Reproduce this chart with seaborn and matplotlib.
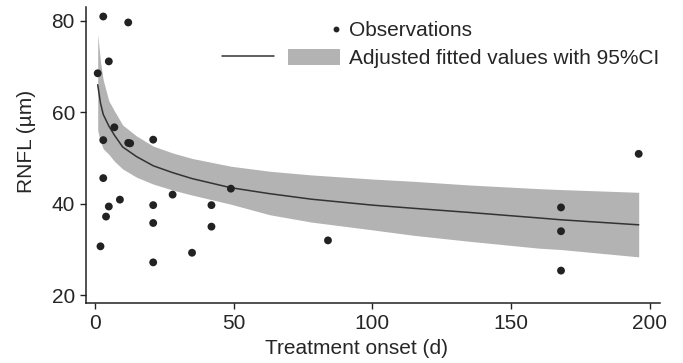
import numpy as np
import pandas as pd
import matplotlib
matplotlib.use("Agg")
import matplotlib.pyplot as plt
import seaborn as sns
from matplotlib.lines import Line2D
from matplotlib.patches import Patch
from matplotlib.legend_handler import HandlerTuple

# ---------------- data ----------------
obs_days = [1, 3, 12, 5, 7, 3, 12, 12.7, 21, 3, 2, 4, 5, 9, 21, 21, 21,
            28, 35, 42, 42, 49, 84, 196, 168, 168, 168]
obs_rnfl = [68.5, 80.9, 79.6, 71.1, 56.7, 53.9, 53.3, 53.2, 54.0, 45.6, 30.7,
            37.2, 39.4, 40.9, 39.7, 35.8, 27.2, 42.0, 29.3, 39.7, 35.0, 43.3,
            32.0, 50.9, 39.2, 34.0, 25.4]

fit_days = [1, 2, 3, 5, 7, 10, 15, 21, 28, 35, 49, 63, 78, 100, 115, 135,
            160, 168, 196]
fit_rnfl = [66.0, 62.0, 59.5, 57.0, 55.0, 52.4, 50.3, 48.3, 46.8, 45.5, 43.5,
            42.2, 41.0, 39.7, 39.0, 38.1, 36.9, 36.5, 35.4]
ci_upper = [77.0, 71.0, 67.0, 62.5, 60.3, 57.2, 54.8, 52.6, 51.1, 49.9, 48.2,
            47.1, 46.3, 45.4, 44.9, 44.1, 43.3, 43.1, 42.5]
ci_lower = [56.0, 53.5, 52.0, 50.8, 49.3, 47.6, 45.8, 44.3, 43.0, 41.9, 39.9,
            37.6, 36.0, 34.3, 33.1, 31.8, 30.3, 30.0, 28.4]

obs = pd.DataFrame({"days": obs_days, "rnfl": obs_rnfl})
fit = pd.DataFrame({"days": fit_days, "rnfl": fit_rnfl,
                    "lo": ci_lower, "hi": ci_upper})

# ---------------- style ----------------
sns.set_style("ticks")
plt.rcParams["font.family"] = ["Liberation Sans", "DejaVu Sans"]
FS = 15
plt.rcParams["font.size"] = FS

fig = plt.figure(figsize=(6.83, 3.63), dpi=100)
ax = fig.add_axes([0.126, 0.165, 0.840, 0.816])

band_color = "#b3b3b3"
ax.fill_between(fit["days"], fit["lo"], fit["hi"], color=band_color,
                linewidth=0, zorder=1)
sns.lineplot(data=fit, x="days", y="rnfl", ax=ax, color="#333333",
             linewidth=1.1, zorder=2)
sns.scatterplot(data=obs, x="days", y="rnfl", ax=ax, color="#222222",
                s=32, edgecolor="none", zorder=3)

ax.set_xlim(-3.2, 203.6)
ax.set_ylim(18.3, 83.0)
ax.set_xticks([0, 50, 100, 150, 200])
ax.set_yticks([20, 40, 60, 80])
ax.set_xlabel("Treatment onset (d)", fontsize=FS)
ax.set_ylabel("RNFL (µm)", fontsize=FS)
ax.xaxis.set_label_coords(0.472, -0.122)
ax.yaxis.set_label_coords(-0.088, 0.546)

for side in ["top", "right"]:
    ax.spines[side].set_visible(False)
for side in ["left", "bottom"]:
    ax.spines[side].set_color("#222222")
    ax.spines[side].set_linewidth(1.1)
ax.tick_params(axis="both", labelsize=FS, length=4, width=1.0,
               color="#222222", pad=4)

# ---------------- legend ----------------
fs_px = FS * 100 / 72
blank = Line2D([], [], linestyle="none")
dot = Line2D([], [], marker="o", linestyle="none", color="#222222",
             markersize=3.2)
fit_line = Line2D([], [], color="#333333", linewidth=1.1)
band = Patch(facecolor=band_color, edgecolor="none")
h_obs = (blank, dot)
h_fit = (fit_line, band)
ax.legend([h_obs, h_fit],
          ["Observations", "Adjusted fitted values with 95%CI"],
          handler_map={h_obs: HandlerTuple(ndivide=None, pad=100 / fs_px),
                       h_fit: HandlerTuple(ndivide=None, pad=14 / fs_px)},
          loc="upper left", bbox_to_anchor=(222 / 683, 1 - 21 / 363),
          bbox_transform=fig.transFigure, frameon=False, fontsize=FS,
          handlelength=118 / fs_px, handleheight=0.78, handletextpad=0.45,
          labelspacing=0.42, borderpad=0, borderaxespad=0)

fig.savefig("out.png", dpi=100)
